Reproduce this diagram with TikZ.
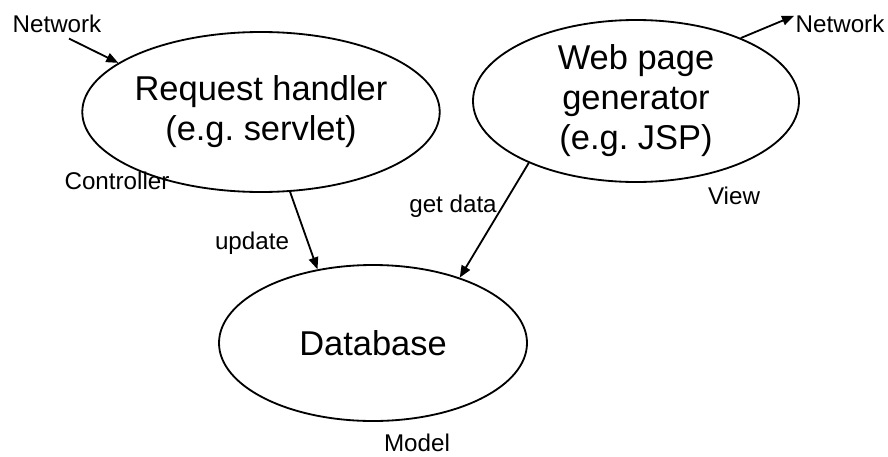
\documentclass[tikz,border=0pt]{standalone}
\usepackage{fontspec}
\setmainfont{Liberation Sans}
\usepackage{tikz}
\usetikzlibrary{arrows.meta,shapes.geometric}

\begin{document}
\begin{tikzpicture}[
  >={Triangle[length=3mm,width=2.4mm]},
  oval/.style={draw, ellipse, line width=1.3pt, inner sep=0pt, align=center,
               font=\fontsize{24.5}{28.5}\selectfont},
  arrow/.style={->, line width=1.3pt},
  annot/.style={inner sep=1pt, font=\fontsize{17.2}{20}\selectfont},
]
\useasboundingbox (0,0) rectangle (22.2,-11.4);

% === The three parts ===
\node[oval, minimum width=7cm, minimum height=4cm] (req) at (6.525,-2.8)
  {Request handler\\(e.g.\ servlet)};
\node[oval, minimum width=8.15cm, minimum height=4.05cm] (web) at (15.9,-2.525)
  {Web page\\generator\\(e.g.\ JSP)};
\node[oval, minimum width=7.7cm, minimum height=3.9cm] (db) at (9.325,-8.575)
  {Database};

% === Labels ===
\node[annot] (netin) at (1.425,-0.6) {Network};
\node[annot] (netout) at (21.0,-0.6) {Network};
\node[annot] (ctrl) at (2.925,-4.525) {Controller};
\node[annot] (view) at (18.35,-4.9) {View};
\node[annot] (model) at (10.425,-11.075) {Model};
\node[annot] (upd) at (6.3,-6.075) {update};
\node[annot] (getd) at (11.325,-5.15) {get data};

% === Arrows ===
\draw[arrow] ([xshift=3mm,yshift=-1mm]netin.south) -- (req.161);
\draw[arrow] (req.-70) -- (db.127);
\draw[arrow] (web.210) -- (db.37);
\draw[arrow] (web.31) -- (netout.170);

\end{tikzpicture}
\end{document}
